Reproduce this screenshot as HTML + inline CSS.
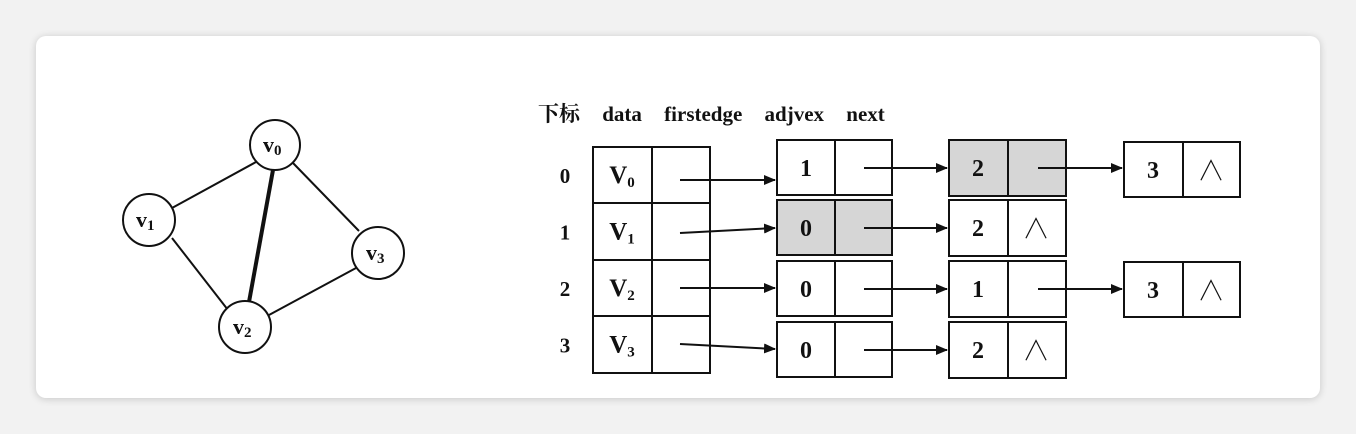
<!DOCTYPE html>
<html><head><meta charset="utf-8"><style>
html,body{margin:0;padding:0;background:#f2f2f2;width:1356px;height:434px;overflow:hidden}
#card{position:absolute;left:36px;top:36px;width:1284px;height:362px;background:#fff;border-radius:10px;box-shadow:0 1px 8px rgba(0,0,0,0.18)}
svg{position:absolute;left:0;top:0}
text{font-family:"Liberation Serif","Noto Serif CJK SC",serif;fill:#111}
</style></head><body>
<div id="card"></div>
<svg width="1356" height="434">
<defs><marker id="ah" markerWidth="12" markerHeight="10" refX="11" refY="5" orient="auto" markerUnits="userSpaceOnUse"><path d="M0,0 L12,5 L0,10 Z" fill="#111"/></marker></defs>
<g stroke="#111" fill="none" stroke-width="2">
<line x1="256" y1="162" x2="172" y2="208"/>
<line x1="293" y1="163" x2="359" y2="231"/>
<line x1="172" y1="238" x2="228" y2="310"/>
<line x1="269" y1="315" x2="356" y2="268"/>
<line x1="273" y1="170" x2="249" y2="302" stroke-width="4"/>
<circle cx="275" cy="145" r="25" fill="#fff"/>
<circle cx="149" cy="220" r="26" fill="#fff"/>
<circle cx="378" cy="253" r="26" fill="#fff"/>
<circle cx="245" cy="327" r="26" fill="#fff"/>
</g>
<g font-size="22" font-weight="bold">
<text x="263" y="152">v<tspan font-size="15" dy="3">0</tspan></text>
<text x="136" y="227">v<tspan font-size="15" dy="3">1</tspan></text>
<text x="366" y="260">v<tspan font-size="15" dy="3">3</tspan></text>
<text x="233" y="334">v<tspan font-size="15" dy="3">2</tspan></text>
</g>
<text x="538" y="121" font-size="21" font-weight="bold" word-spacing="17">下标 data firstedge adjvex next</text>
<g id="boxes" stroke="#111" stroke-width="2" fill="#fff"></g>
<g id="txt" font-size="24" font-weight="bold"></g>
</svg>
<script>
const B=document.getElementById('boxes'),T=document.getElementById('txt');
function rect(x,y,w,h,fill,name){const r=document.createElementNS('http://www.w3.org/2000/svg','rect');r.setAttribute('x',x);r.setAttribute('y',y);r.setAttribute('width',w);r.setAttribute('height',h);r.setAttribute('fill',fill);


B.appendChild(r);}
function line(x1,y1,x2,y2,arrow){const l=document.createElementNS('http://www.w3.org/2000/svg','line');l.setAttribute('x1',x1);l.setAttribute('y1',y1);l.setAttribute('x2',x2);l.setAttribute('y2',y2);if(arrow)l.setAttribute('marker-end','url(#ah)');


B.appendChild(l);}
function text(x,y,s,sub,size,weight){const t=document.createElementNS('http://www.w3.org/2000/svg','text');t.setAttribute('x',x);t.setAttribute('y',y);t.setAttribute('text-anchor','middle');if(size)t.setAttribute('font-size',size);if(weight)t.setAttribute('font-weight',weight);t.textContent=s;
if(sub){const sp=document.createElementNS('http://www.w3.org/2000/svg','tspan');sp.setAttribute('font-size','15');sp.setAttribute('dy','4');sp.textContent=sub;t.appendChild(sp);}


T.appendChild(t);}
const rows=[147,203,260,316,373];
for(let i=0;i<4;i++){
 rect(593,rows[i],59,rows[i+1]-rows[i],'#fff','vertex-data-cell');
 rect(652,rows[i],58,rows[i+1]-rows[i],'#fff','vertex-firstedge-cell');
 text(565,(rows[i]+rows[i+1])/2+8,String(i),null,21);
 text(622,(rows[i]+rows[i+1])/2+8,'V',String(i),25);
}
const grey='#d6d6d6';
const col2=[[140,'1',null,1],[200,'0',grey,1],[261,'0',null,1],[322,'0',null,1]];
const col3=[[140,'2',grey,1],[200,'2',null,0],[261,'1',null,1],[322,'2',null,0]];
const col4=[[142,'3'],null,[262,'3'],null];
const fy=[[180,180],[233,228],[288,288],[344,349]];
for(let i=0;i<4;i++){
 line(680,fy[i][0],775,fy[i][1],true);
 const [y,v,f,nx]=col2[i];
 rect(777,y,58,55,f||'#fff','edge-adjvex-cell');rect(835,y,57,55,f||'#fff','edge-next-cell');
 text(806,y+36,v,null,24);
 line(864,y+28,947,y+28,true);
 const [y3,v3,f3,n3]=col3[i];
 rect(949,y3,59,56,f3||'#fff','edge-adjvex-cell');rect(1008,y3,58,56,f3||'#fff','edge-next-cell');
 text(978,y3+36,v3,null,24);
 if(n3){line(1038,y3+28,1122,y3+28,true);}
 else text(1036,y3+38,'∧',null,28,'normal');
 if(col4[i]){const [y4,v4]=col4[i];
  rect(1124,y4,59,55,'#fff','edge-adjvex-cell');rect(1183,y4,57,55,'#fff','edge-next-cell');
  text(1153,y4+36,v4,null,24);text(1211,y4+38,'∧',null,28,'normal');}
}
</script>
</body></html>
